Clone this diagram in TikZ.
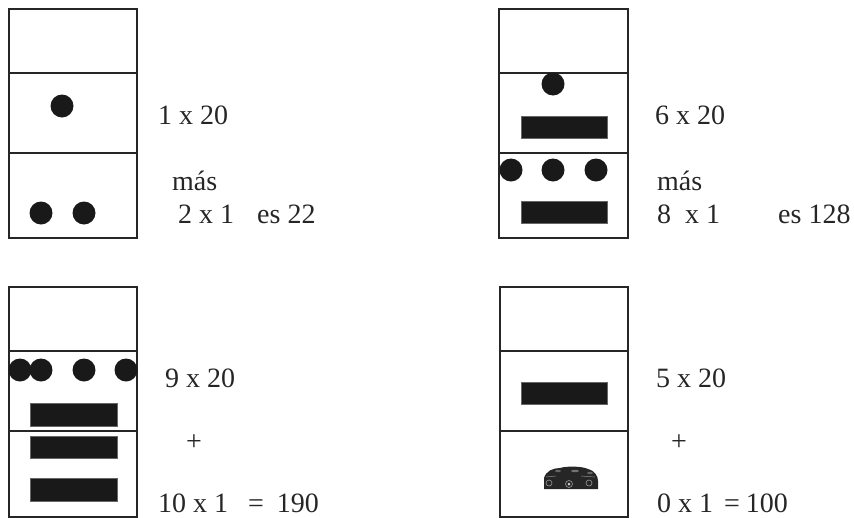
\documentclass[tikz,border=0pt]{standalone}
\usepackage{fontspec}
\setmainfont{Liberation Serif}
\begin{document}
\begin{tikzpicture}[x=1pt,y=-1pt,
  frame/.style={draw=black!85,line width=1.5pt},
  bead/.style={fill=black!90},
  bar/.style={fill=black!90,draw=black!60,line width=0.4pt},
  lbl/.style={anchor=base west,inner sep=0pt,text depth=0pt,font=\fontsize{28}{31}\selectfont,text=black!85}]
\useasboundingbox (0,0) rectangle (854,517);
% ---------- box 1 ----------
\draw[frame] (9,9) rectangle (137,238);
\draw[frame] (9,73) -- (137,73);
\draw[frame] (9,153) -- (137,153);
\fill[bead] (62,106) circle (11.5);
\fill[bead] (41,213) circle (11.5);
\fill[bead] (84,213) circle (11.5);
\node[lbl] (t1a) at (158,124) {1 x 20};
\node[lbl] (t1b) at (172,190) {más};
\node[lbl] (t1c) at (178,223) {2 x 1};
\node[lbl] (t1d) at (257,223) {es 22};
% ---------- box 2 ----------
\draw[frame] (499,9) rectangle (628,238);
\draw[frame] (499,73) -- (628,73);
\draw[frame] (499,153) -- (628,153);
\fill[bead] (553,84) circle (11.5);
\filldraw[bar] (521,116) rectangle (607,138);
\fill[bead] (511,170) circle (11.5);
\fill[bead] (553,170) circle (11.5);
\fill[bead] (596,170) circle (11.5);
\filldraw[bar] (521,201) rectangle (607,223);
\node[lbl] (t2a) at (655,124) {6 x 20};
\node[lbl] (t2b) at (657,190) {más};
\node[lbl] (t2c) at (657,223) {8\ \ x 1};
\node[lbl] (t2d) at (778,223) {es 128};
% ---------- box 3 ----------
\draw[frame] (9,287) rectangle (137,517);
\draw[frame] (9,351) -- (137,351);
\draw[frame] (9,431) -- (137,431);
\fill[bead] (20,370) circle (11.5);
\fill[bead] (41,370) circle (11.5);
\fill[bead] (84,370) circle (11.5);
\fill[bead] (126,370) circle (11.5);
\filldraw[bar] (30,403) rectangle (117,426);
\filldraw[bar] (30,436) rectangle (117,458);
\filldraw[bar] (30,478) rectangle (117,501);
\node[lbl] (t3a) at (165,387) {9 x 20};
\node[lbl] (t3b) at (186,450) {+};
\node[lbl] (t3c) at (158,512) {10 x 1\hspace{20pt}=\hspace{13pt}190};
% ---------- box 4 ----------
\draw[frame] (500,287) rectangle (628,517);
\draw[frame] (500,351) -- (628,351);
\draw[frame] (500,431) -- (628,431);
\filldraw[bar] (521,382) rectangle (607,404);
% shell (zero)
\fill[black!85] (544,489) -- (544,478) .. controls (546,471) and (553,468) .. (560,468)
  .. controls (566,466) and (582,466) .. (588,469) .. controls (595,471) and (598,476) .. (598,481)
  -- (598,489) -- cycle;
\fill[black!60] (558,471) ellipse (3 and 1.2);
\fill[black!55] (575,471) ellipse (4 and 1.2);
\fill[black!60] (590,473) ellipse (3 and 1.2);
\draw[black!40,line width=0.6pt] (549,483) circle (3);
\draw[black!40,line width=0.6pt] (569,484) circle (3.5);
\fill[white!80!black] (569,484) circle (1.5);
\draw[black!40,line width=0.6pt] (589,483) circle (3);
\draw[black!45,line width=0.5pt] (546,477) -- (556,476) (581,476) -- (595,477);
\node[lbl] (t4a) at (656,387) {5 x 20};
\node[lbl] (t4b) at (671,450) {+};
\node[lbl] (t4c) at (657,512) {0 x 1\hspace{11pt}=\hspace{6pt}100};
\end{tikzpicture}
\end{document}
